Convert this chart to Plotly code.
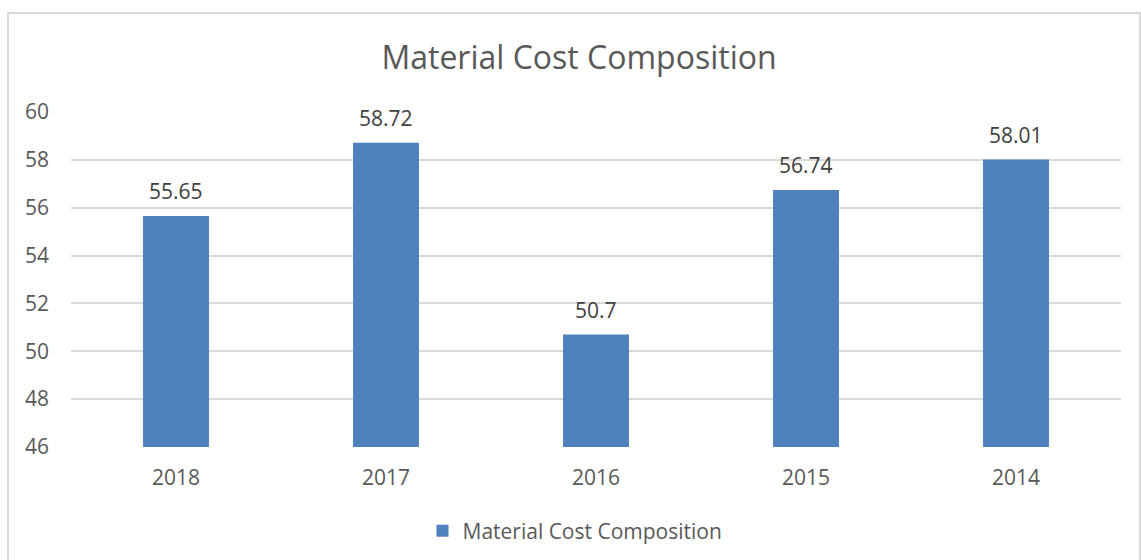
import plotly.graph_objects as go

categories = ["2018", "2017", "2016", "2015", "2014"]
values = [55.65, 58.72, 50.7, 56.74, 58.01]
value_labels = ["55.65", "58.72", "50.7", "56.74", "58.01"]
y_ticks = [46, 48, 50, 52, 54, 56, 58, 60]
series_name = "Material Cost Composition"

W, H = 1141, 560
L, R, T, B = 71, 20, 112, 113
PW, PH = W - L - R, H - T - B
FONT = "Open Sans, sans-serif"

fig = go.Figure()
fig.add_trace(go.Bar(
    x=categories, y=values, name=series_name,
    marker=dict(color="#4f81bd", line=dict(width=0)),
    width=0.314,
))

# category axis: annotation x given as category index
for i, (v, t) in enumerate(zip(values, value_labels)):
    fig.add_annotation(x=i, y=v, text=t, showarrow=False, yanchor="bottom", yshift=9,
                       font=dict(size=21, color="#404040", family=FONT))

fig.update_layout(
    width=W, height=H,
    margin=dict(l=L, r=R, t=T, b=B, autoexpand=False),
    paper_bgcolor="white", plot_bgcolor="white",
    font=dict(family=FONT, color="#595959"),
    title=dict(text="Material Cost Composition", x=579 / W, xanchor="center",
               y=1 - 58 / H, yanchor="middle",
               font=dict(size=32, color="#595959")),
    showlegend=True,
    legend=dict(orientation="h", x=(575 - L) / PW, xanchor="center",
                y=-(531 - (H - B)) / PH, yanchor="middle",
                font=dict(size=21, color="#595959")),
)
fig.update_xaxes(type="category", categoryorder="array", categoryarray=categories,
                 range=[-0.5, len(categories) - 0.5],
                 showgrid=False, showline=False, ticks="", tickfont=dict(size=21, color="#595959"),
                 ticklabelstandoff=16, automargin=False)
fig.update_yaxes(range=[46, 60], tickvals=y_ticks, showgrid=True, gridcolor="#d9d9d9", gridwidth=1.5,
                 zeroline=False, showline=False, ticks="", tickfont=dict(size=21, color="#595959"),
                 ticklabelstandoff=21, automargin=False)

fig.add_shape(type="rect", xref="paper", yref="paper",
              x0=-(L - 8) / PW, x1=(W - 1 - L) / PW,
              y0=-(B + 10) / PH, y1=1 + (T - 13) / PH,
              line=dict(color="#d9d9d9", width=2), fillcolor="rgba(0,0,0,0)", layer="below")

fig.write_html("out.html", config={"displayModeBar": False},
               post_script="document.body.style.margin='0';")
